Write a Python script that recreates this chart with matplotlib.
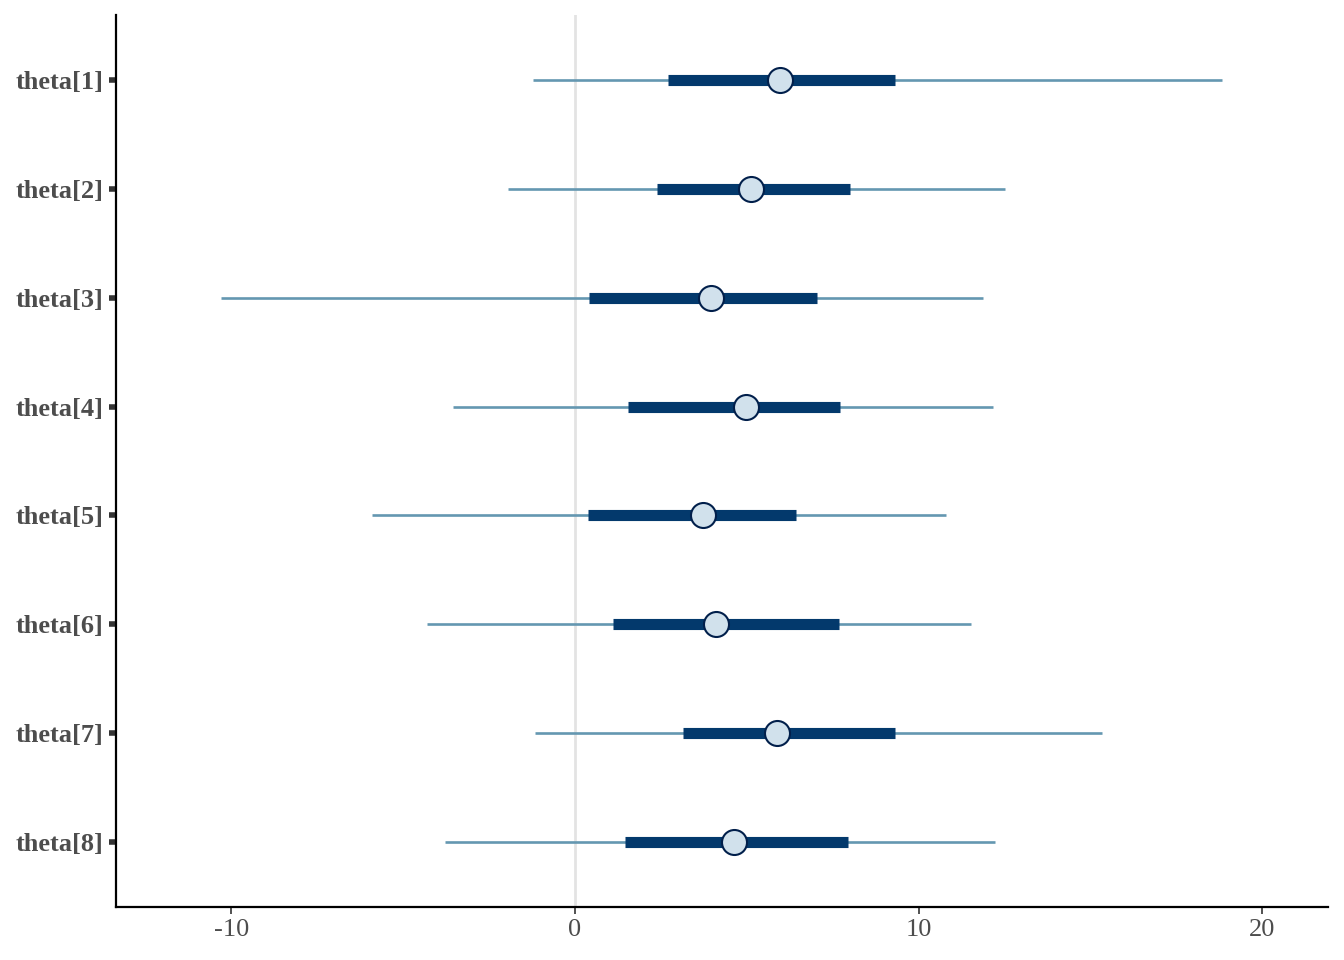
import numpy as np
import matplotlib
matplotlib.use("Agg")
import matplotlib.pyplot as plt

params = ["theta[1]", "theta[2]", "theta[3]", "theta[4]",
          "theta[5]", "theta[6]", "theta[7]", "theta[8]"]
med = [5.97, 5.12, 3.96, 4.98, 3.73, 4.10, 5.88, 4.63]
lo_in = [2.71, 2.39, 0.41, 1.54, 0.38, 1.11, 3.14, 1.46]
hi_in = [9.32, 8.01, 7.05, 7.71, 6.43, 7.69, 9.32, 7.95]
lo_out = [-1.22, -1.95, -10.31, -3.55, -5.91, -4.31, -1.16, -3.78]
hi_out = [18.84, 12.52, 11.88, 12.17, 10.80, 11.53, 15.34, 12.23]
xticks = [-10, 0, 10, 20]

plt.rcParams.update({"font.family": ["Liberation Serif", "DejaVu Serif"], "font.size": 19})

fig = plt.figure(figsize=(13.44, 9.6), dpi=100)
ax = fig.add_axes([116/1344, 53/960, 1212/1344, 892/960])

y = np.arange(len(params))[::-1]
ax.axvline(0, color="#e3e3e3", lw=2, zorder=0)
ax.hlines(y, lo_out, hi_out, color="#6497b1", lw=1.9, zorder=1)
ax.hlines(y, lo_in, hi_in, color="#03396c", lw=8, zorder=2, capstyle="butt")
ax.plot(med, y, "o", ms=18, mfc="#d1e1ec", mec="#011f4b", mew=1.5, ls="none", zorder=3)

ax.set_xlim(-13.36, 21.92)
ax.set_ylim(-0.6, len(params) - 1 + 0.6)
ax.set_xticks(xticks)
ax.set_xticklabels([str(t) for t in xticks])
ax.set_yticks(y)
ax.set_yticklabels(params, fontweight="bold")

for s in ("top", "right"):
    ax.spines[s].set_visible(False)
for s in ("left", "bottom"):
    ax.spines[s].set_linewidth(1.6)
    ax.spines[s].set_color("black")
ax.tick_params(axis="x", length=5, width=1.2, colors="#333333", labelcolor="#4d4d4d", pad=4)
ax.tick_params(axis="y", length=5, width=4, colors="#333333", labelcolor="#4d4d4d", pad=4)

fig.savefig("out.png", dpi=100, facecolor="white")
